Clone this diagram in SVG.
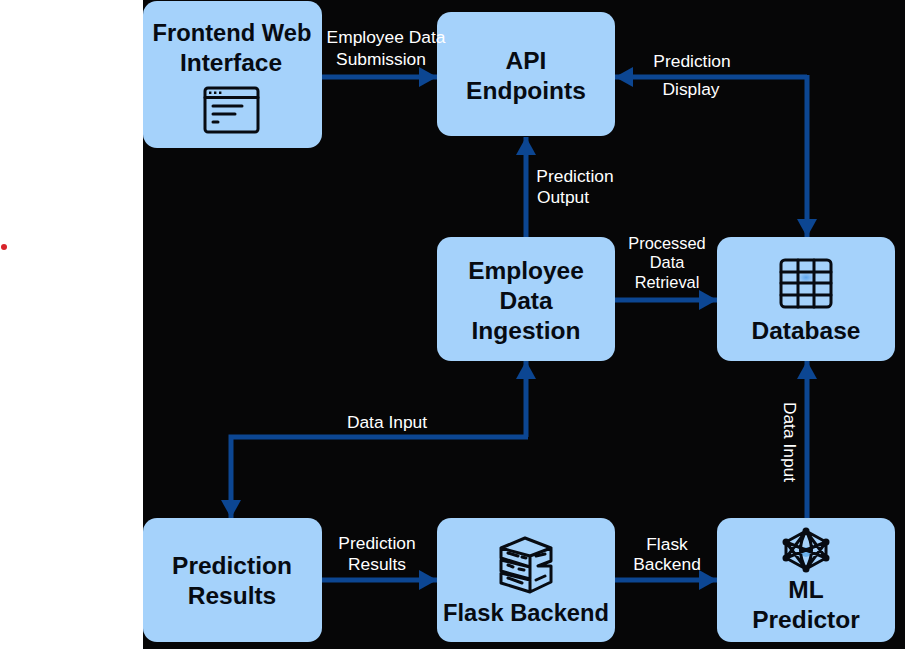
<svg xmlns="http://www.w3.org/2000/svg" width="905" height="649" viewBox="0 0 905 649">
<defs>
<marker id="arrow" markerUnits="userSpaceOnUse" markerWidth="20" markerHeight="22" refX="19" refY="11" orient="auto"><path d="M1 1L19 11L1 21Z" fill="#0c4692"/></marker>
<radialGradient id="cell"><stop offset="0" stop-color="#5fa6ee"/><stop offset="1" stop-color="#a3d0fb"/></radialGradient>
<linearGradient id="fade"><stop offset="0" stop-color="#2a527c"/><stop offset="1" stop-color="#8fbce8"/></linearGradient>
</defs>
<style>
.node{fill:#a5d2fb}
.t{font-family:"Liberation Sans",Arial,sans-serif;font-weight:700;font-size:24.500px;fill:#070b12;text-anchor:middle}
.s{font-size:23.700px}
.l{font-family:"Liberation Sans",Arial,sans-serif;font-size:17.400px;fill:#fff;text-anchor:middle}
.p{font-size:16.400px}
.c{fill:none;stroke:#0c4692;stroke-width:5;marker-end:url(#arrow)}
.i{fill:none;stroke:#070b12;stroke-width:3;stroke-linejoin:round;stroke-linecap:round}
</style>
<rect width="905" height="649" fill="#fff"/>
<rect x="143" width="762" height="649" fill="#060607"/>
<circle cx="4" cy="247" r="3" fill="#d8232a"/>
<g id="connectors">
<path class="c" d="M322 77H437"/>
<path class="c" d="M807 77H615"/>
<path class="c" d="M807 75V237"/>
<path class="c" d="M526 237V137"/>
<path class="c" d="M615 300H717"/>
<path class="c" d="M526 437V361"/>
<path class="c" d="M528 437H231V518"/>
<path class="c" d="M322 580H437"/>
<path class="c" d="M615 580H717"/>
<path class="c" d="M807 518V361"/>
</g>
<g id="frontend">
<rect class="node" x="143" y="1" width="179" height="147" rx="14"/>
<text class="t s" x="232" y="41">Frontend Web</text>
<text class="t" x="231" y="71">Interface</text>
<g class="i"><rect x="205" y="88" width="53" height="44" rx="3"/><path d="M205 97.500H258M213 106H242M213 114H235M213 122H218"/><path d="M225 122H249" stroke="url(#fade)" stroke-width="2"/></g>
<path d="M209 92.700h2.400M214 92.700h2.400M219 92.700h2.400" stroke="#070b12" stroke-width="2.400"/>
</g>
<g id="api">
<rect class="node" x="437" y="12" width="178" height="124" rx="14"/>
<text class="t" x="526" y="69">API</text>
<text class="t" x="526" y="99">Endpoints</text>
</g>
<g id="ingestion">
<rect class="node" x="437" y="237" width="178" height="124" rx="14"/>
<text class="t" x="526" y="279">Employee</text>
<text class="t" x="526" y="309">Data</text>
<text class="t" x="526" y="339">Ingestion</text>
</g>
<g id="database">
<rect class="node" x="717" y="237" width="178" height="124" rx="14"/>
<rect x="798" y="272" width="16" height="11" fill="url(#cell)"/>
<g class="i"><rect x="781" y="260" width="50" height="47" rx="4"/><path d="M781 272H831M781 283H831M781 295H831M798 260V307M814 260V307"/></g>
<text class="t" x="806" y="339">Database</text>
</g>
<g id="results">
<rect class="node" x="143" y="518" width="179" height="124" rx="14"/>
<text class="t" x="232" y="574">Prediction</text>
<text class="t" x="232" y="604">Results</text>
</g>
<g id="flask">
<rect class="node" x="437" y="518" width="178" height="124" rx="14"/>
<g class="i"><path d="M501 548L525 538L551 548L530 556ZM501 548V558L530 567V556ZM501 560V571L530 579V567ZM501 573V583L530 592V580ZM530 556L551 548V561L538 566L551 566V582L530 592"/><path d="M508 553L518 556M522 557L526 558M508 565L513 567M519 569L524 570M508 578L522 583M536 556L545 554M536 580L545 576"/></g>
<text class="t s" x="526" y="621">Flask Backend</text>
</g>
<g id="ml">
<rect class="node" x="717" y="518" width="178" height="124" rx="14"/>
<circle cx="806" cy="552" r="5" fill="#6cb2ec"/>
<g class="i" stroke-width="1.800"><path d="M806 531L826 542L826 558L806 569L786 558L786 542ZM806 531L786 558M806 531L826 558M786 542L826 558M826 542L786 558M786 542L806 569M826 542L806 569M806 531Q795 550 806 569M806 531Q817 550 806 569"/></g>
<g fill="#070b12"><circle cx="806" cy="531" r="3.500"/><circle cx="826" cy="542" r="3.500"/><circle cx="826" cy="558" r="3.500"/><circle cx="806" cy="569" r="3.500"/><circle cx="786" cy="558" r="3.500"/><circle cx="786" cy="542" r="3.500"/></g>
<text class="t" x="806" y="598">ML</text>
<text class="t" x="806" y="628">Predictor</text>
</g>
<g id="connector-labels">
<text class="l" x="386" y="43">Employee Data</text>
<text class="l" x="381" y="65">Submission</text>
<text class="l" x="692" y="67">Prediction</text>
<text class="l" x="691" y="95">Display</text>
<text class="l" x="575" y="182">Prediction</text>
<text class="l" x="563" y="203">Output</text>
<text class="l p" x="667" y="249">Processed</text>
<text class="l p" x="667" y="268">Data</text>
<text class="l p" x="667" y="288">Retrieval</text>
<text class="l" x="387" y="428">Data Input</text>
<text class="l" transform="translate(784 442) rotate(90)">Data Input</text>
<text class="l" x="377" y="549">Prediction</text>
<text class="l" x="377" y="570">Results</text>
<text class="l" x="667" y="550">Flask</text>
<text class="l" x="667" y="570">Backend</text>
</g>
</svg>
